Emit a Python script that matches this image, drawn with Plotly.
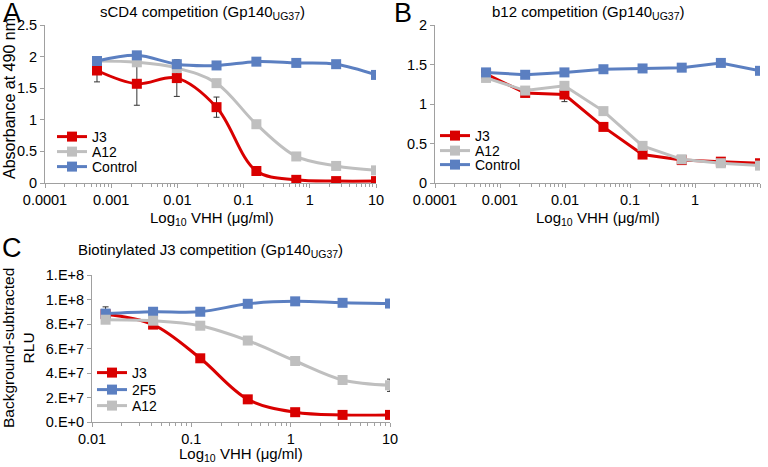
import plotly.graph_objects as go

# ---------------- data ----------------
conc_ab = [0.00061, 0.00244, 0.0098, 0.039, 0.156, 0.625, 2.5, 10]
a_j3 = [1.78, 1.57, 1.66, 1.20, 0.19, 0.05, 0.03, 0.03]
a_j3_err = [0.18, 0.34, 0.29, 0.16, 0, 0, 0, 0]
a_a12 = [1.93, 1.91, 1.82, 1.58, 0.93, 0.42, 0.27, 0.20]
a_ctrl = [1.93, 2.02, 1.88, 1.86, 1.92, 1.90, 1.88, 1.71]
a_ctrl_err = [0, 0.06, 0, 0, 0, 0, 0, 0]

b_j3 = [1.38, 1.14, 1.12, 0.71, 0.36, 0.29, 0.27, 0.25]
b_j3_err = [0, 0, 0.09, 0.04, 0, 0, 0.03, 0]
b_a12 = [1.33, 1.17, 1.23, 0.91, 0.47, 0.30, 0.25, 0.22]
b_ctrl = [1.40, 1.37, 1.40, 1.44, 1.45, 1.46, 1.52, 1.42]

conc_c = [0.0137, 0.0412, 0.123, 0.37, 1.11, 3.33, 10]
c_j3 = [8.8e7, 7.95e7, 5.2e7, 1.85e7, 0.8e7, 0.58e7, 0.58e7]
c_2f5 = [8.85e7, 9.0e7, 9.0e7, 9.65e7, 9.85e7, 9.73e7, 9.67e7]
c_2f5_err = [0.55e7, 0, 0, 0, 0, 0, 0]
c_a12 = [8.35e7, 8.27e7, 7.86e7, 6.65e7, 4.98e7, 3.43e7, 3.0e7]
c_a12_err = [0, 0, 0, 0, 0, 0, 0.5e7]

x_ticks_ab = [0.0001, 0.001, 0.01, 0.1, 1, 10]
x_ticktext_ab = ["0.0001", "0.001", "0.01", "0.1", "1", "10"]
x_ticks_c = [0.01, 0.1, 1, 10]
x_ticktext_c = ["0.01", "0.1", "1", "10"]
y_ticks_c = [0, 2e7, 4e7, 6e7, 8e7, 1e8, 1.2e8]
y_ticktext_c = ["0.E+0", "2.E+7", "4.E+7", "6.E+7", "8.E+7", "1.E+8", "1.E+8"]

RED = "#D90000"
GRAY = "#BFBFBF"
BLUE = "#5B7FC1"
FONT = "Liberation Sans, Arial, sans-serif"
W, H = 768, 467


def px_x(p):
    return p / W


def px_y(p):
    return 1 - p / H


def err(arr):
    return dict(type="data", array=arr, visible=True, color="#333333",
                thickness=1, width=3)


def tr(x, y, name, color, xa, ya, legend, shape, e=None):
    return go.Scatter(
        x=x, y=y, name=name, mode="lines+markers", xaxis=xa, yaxis=ya,
        legend=legend,
        line=dict(color=color, width=3, shape=shape, smoothing=1.0),
        marker=dict(symbol="square", size=10, color=color),
        error_y=err(e) if e is not None else None,
    )


fig = go.Figure()
fig.add_trace(tr(conc_ab, a_j3, "J3", RED, "x", "y", "legend", "spline", a_j3_err))
fig.add_trace(tr(conc_ab, a_a12, "A12", GRAY, "x", "y", "legend2", "spline"))
fig.add_trace(tr(conc_ab, a_ctrl, "Control", BLUE, "x", "y", "legend3", "spline", a_ctrl_err))

fig.add_trace(tr(conc_ab, b_j3, "J3", RED, "x2", "y2", "legend4", "linear", b_j3_err))
fig.add_trace(tr(conc_ab, b_a12, "A12", GRAY, "x2", "y2", "legend5", "linear"))
fig.add_trace(tr(conc_ab, b_ctrl, "Control", BLUE, "x2", "y2", "legend6", "linear"))

fig.add_trace(tr(conc_c, c_j3, "J3", RED, "x3", "y3", "legend7", "spline"))
fig.add_trace(tr(conc_c, c_2f5, "2F5", BLUE, "x3", "y3", "legend8", "spline", c_2f5_err))
fig.add_trace(tr(conc_c, c_a12, "A12", GRAY, "x3", "y3", "legend9", "spline", c_a12_err))

axis_common = dict(showgrid=False, zeroline=False, showline=True,
                   linecolor="#A0A0A0", linewidth=1, ticks="outside",
                   ticklen=4, tickcolor="#A0A0A0",
                   tickfont=dict(size=14.5, color="#000000", family=FONT))

xlog = dict(axis_common, type="log", tickmode="array",
            minor=dict(ticks="outside", ticklen=3, tickcolor="#A0A0A0",
                       dtick="D1", showgrid=False))

layout = dict(
    width=W, height=H, margin=dict(l=0, r=0, t=0, b=0, autoexpand=False),
    paper_bgcolor="white", plot_bgcolor="white",
    font=dict(family=FONT, size=14, color="#000000"),
    xaxis=dict(xlog, domain=[px_x(45), px_x(376)], anchor="y",
               range=[-4, 1], tickvals=x_ticks_ab, ticktext=x_ticktext_ab),
    yaxis=dict(axis_common, domain=[px_y(183), px_y(25)], anchor="x",
               range=[0, 2.5], dtick=0.5),
    xaxis2=dict(xlog, domain=[px_x(435), px_x(760)], anchor="y2",
                range=[-4, 1], tickvals=x_ticks_ab, ticktext=x_ticktext_ab),
    yaxis2=dict(axis_common, domain=[px_y(183), px_y(25)], anchor="x2",
                range=[0, 2], dtick=0.5),
    xaxis3=dict(xlog, domain=[px_x(92), px_x(390)], anchor="y3",
                range=[-2, 1], tickvals=x_ticks_c, ticktext=x_ticktext_c),
    yaxis3=dict(axis_common, domain=[px_y(422), px_y(275)], anchor="x3",
                range=[0, 1.2e8], tickmode="array", tickvals=y_ticks_c,
                ticktext=y_ticktext_c),
    showlegend=True,
)

# one legend per entry so the entries sit exactly where the reference has them
legend_pos = [
    (52, 137), (52, 152), (52, 167),
    (435, 136), (435, 151), (435, 165),
    (92, 373), (92, 390), (92, 406),
]
for i, (lx, ly) in enumerate(legend_pos):
    key = "legend" if i == 0 else f"legend{i + 1}"
    layout[key] = dict(x=px_x(lx), y=px_y(ly), xanchor="left",
                       yanchor="middle", bgcolor="rgba(0,0,0,0)",
                       font=dict(size=14, family=FONT), tracegroupgap=0,
                       itemwidth=30, borderwidth=0)

fig.update_layout(**layout)

ann = []


def text(x, y, s, size=15, angle=0, xanchor="center"):
    ann.append(dict(x=px_x(x), y=px_y(y), xref="paper", yref="paper",
                    text=s, showarrow=False, textangle=angle,
                    xanchor=xanchor, yanchor="middle",
                    font=dict(size=size, family=FONT, color="#000000")))


text(202, 13, "sCD4 competition (Gp140<sub>UG37</sub>)")
text(588, 13, "b12 competition (Gp140<sub>UG37</sub>)")
text(210, 250, "Biotinylated J3 competition (Gp140<sub>UG37</sub>)")
text(12, 13, "A", size=27)
text(403, 13, "B", size=27)
text(12, 248, "C", size=27)
text(212, 218, "Log<sub>10</sub> VHH (μg/ml)")
text(598, 218, "Log<sub>10</sub> VHH (μg/ml)")
text(241, 454, "Log<sub>10</sub> VHH (μg/ml)")
text(9, 99, "Absorbance at 490 nm", size=16, angle=-90)
text(18, 348, "Background-subtracted<br>RLU", size=15.5, angle=-90)

fig.update_layout(annotations=ann)

fig.write_html("out.html",
               config={"displayModeBar": False},
               post_script="document.body.style.margin='0px';")
